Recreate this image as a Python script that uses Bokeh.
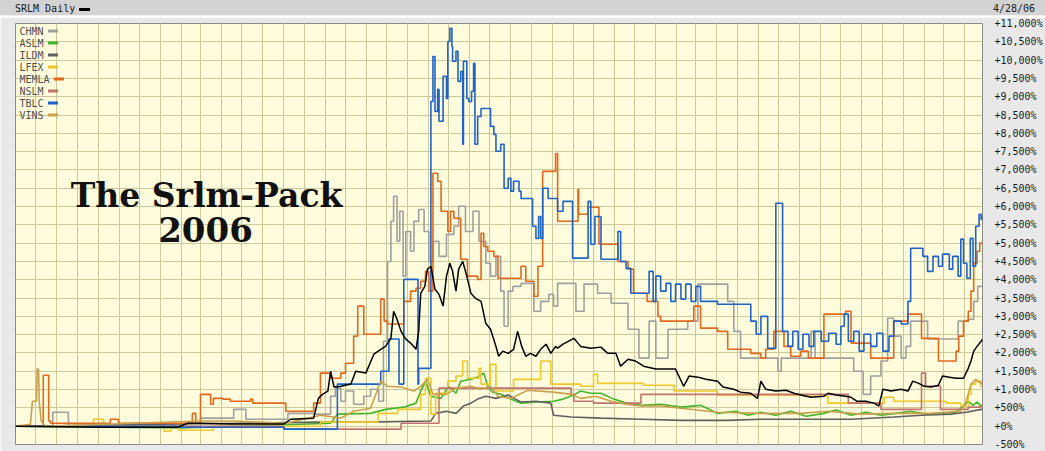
import pandas as pd
from bokeh.plotting import figure
from bokeh.models import Range1d, FixedTicker, MonthsTicker, Label, BoxAnnotation, Div, ColumnDataSource
from bokeh.layouts import column
from bokeh.embed import file_html
from bokeh.resources import INLINE

# ---------------- data (percent change since start) ----------------
srlm = [("2002-06-01",0),("2002-10-05",-30),("2003-01-26",-30),("2003-02-10",80),("2003-03-01",80),("2003-04-14",60),
        ("2003-07-02",60),("2003-07-12",190),("2003-08-15",220),("2003-08-22",760),("2003-08-28",870),("2003-09-05",960),
        ("2003-09-09",1500),("2003-09-14",1070),("2003-09-24",1090),("2003-10-09",1150),("2003-10-16",1500),("2003-10-31",1450),
        ("2003-11-12",1970),("2003-11-22",2100),("2003-11-29",2180),("2003-12-07",2400),("2003-12-11",3140),("2003-12-16",2920),
        ("2003-12-22",2590),("2003-12-29",2380),("2004-01-05",2270),("2004-01-13",2100),("2004-01-17",2590),("2004-01-20",3630),
        ("2004-01-26",3820),("2004-01-30",4290),("2004-02-04",4370),("2004-02-10",3740),("2004-02-16",3600),("2004-02-22",3280),
        ("2004-02-27",4100),("2004-03-03",4450),("2004-03-07",4230),("2004-03-12",3690),("2004-03-16",4290),("2004-03-22",4500),
        ("2004-03-28",4100),("2004-04-03",3630),("2004-04-10",3490),("2004-04-18",3410),("2004-04-25",2810),("2004-05-02",2650),
        ("2004-05-10",2180),("2004-05-14",1910),("2004-05-20",2050),("2004-05-28",1990),("2004-06-05",2100),("2004-06-11",2590),
        ("2004-06-17",2180),("2004-06-23",1910),("2004-06-30",1990),("2004-07-08",1910),("2004-07-15",2100),("2004-07-23",2240),
        ("2004-07-30",1990),("2004-08-06",2180),("2004-08-09",2130),("2004-08-17",2240),("2004-09-02",2400),("2004-09-12",2180),
        ("2004-09-27",2130),("2004-10-12",2160),("2004-10-22",1990),("2004-11-03",1990),("2004-11-10",1640),("2004-11-21",1830),
        ("2004-12-02",1780),("2004-12-14",1640),("2005-01-01",1560),("2005-01-19",1560),("2005-01-30",1560),("2005-02-11",1090),
        ("2005-02-19",1370),("2005-03-04",1340),("2005-03-16",1280),("2005-04-02",1230),("2005-04-10",1070),("2005-04-26",1010),
        ("2005-05-06",930),("2005-05-21",900),("2005-05-31",760),("2005-06-05",1230),("2005-06-12",1010),("2005-06-27",960),
        ("2005-07-12",980),("2005-07-24",900),("2005-08-03",850),("2005-08-18",790),("2005-09-06",820),("2005-09-12",900),
        ("2005-09-24",850),("2005-10-08",820),("2005-10-16",790),("2005-10-25",680),("2005-11-07",680),("2005-11-19",630),
        ("2005-11-26",550),("2005-12-02",1010),("2005-12-14",960),("2005-12-29",1010),("2006-01-08",960),("2006-01-15",1230),
        ("2006-01-24",1170),("2006-02-01",1090),("2006-02-11",1070),("2006-02-22",1120),("2006-02-28",1370),("2006-03-10",1340),
        ("2006-03-20",1310),("2006-03-31",1310),("2006-04-07",1580),("2006-04-11",1780),("2006-04-15",2050),("2006-04-20",2180),
        ("2006-04-26",2320),("2006-04-28",2380)]

chmn = [("2002-06-01",0),("2002-07-26",380),("2002-08-18",0),("2002-11-21",80),("2002-12-03",0),("2003-01-06",80),
        ("2003-01-20",0),("2003-03-01",220),("2003-04-19",460),("2003-05-07",190),("2003-07-08",350),("2003-08-15",330),
        ("2003-09-09",820),("2003-09-16",1040),("2003-09-24",680),("2003-10-01",960),("2003-10-13",600),("2003-10-28",820),
        ("2003-11-07",1010),("2003-11-19",680),("2003-11-26",2320),("2003-12-02",4500),("2003-12-07",5600),("2003-12-11",6280),
        ("2003-12-16",5050),("2003-12-20",5870),("2003-12-25",4100),("2003-12-29",5320),("2004-01-05",4780),("2004-01-10",5600),
        ("2004-01-17",5920),("2004-01-25",5320),("2004-02-01",4500),("2004-02-07",5050),("2004-02-16",4640),("2004-02-27",5240),
        ("2004-03-09",5460),("2004-03-16",6010),("2004-03-26",5320),("2004-04-06",5870),("2004-04-15",5050),("2004-04-25",4450),
        ("2004-05-02",4100),("2004-05-10",4640),("2004-05-17",3690),("2004-05-22",2730),("2004-05-28",3690),("2004-06-04",3820),
        ("2004-06-16",3900),("2004-07-05",3140),("2004-07-15",3410),("2004-07-27",3600),("2004-08-03",3280),("2004-08-09",3900),
        ("2004-09-05",3140),("2004-09-17",3880),("2004-10-07",3630),("2004-10-27",3360),("2004-11-21",2650),("2004-12-07",1860),
        ("2004-12-22",2870),("2005-01-01",1860),("2005-01-19",2650),("2005-02-17",2870),("2005-03-04",3880),("2005-04-17",3410),
        ("2005-04-26",2590),("2005-05-06",1860),("2005-06-30",1500),("2005-07-05",1860),("2005-08-18",2590),("2005-08-24",1860),
        ("2005-10-20",1500),("2005-11-03",870),("2005-11-14",1370),("2005-11-29",1780),("2005-12-09",2950),("2005-12-18",2460),
        ("2005-12-29",1860),("2006-01-05",2180),("2006-01-12",2870),("2006-02-06",2380),("2006-03-23",2870),("2006-04-07",2920),
        ("2006-04-15",3410),("2006-04-21",3820),("2006-04-28",3820)]

aslm = [("2002-06-01",0),("2003-01-30",-50),("2003-09-09",80),("2003-09-19",330),("2003-11-07",350),("2003-11-29",460),
        ("2003-12-26",520),("2004-01-13",630),("2004-01-20",960),("2004-01-27",1230),("2004-02-04",820),("2004-02-19",760),
        ("2004-03-01",1090),("2004-03-12",900),("2004-03-19",1230),("2004-04-03",1280),("2004-04-13",1340),("2004-04-22",1450),
        ("2004-04-28",1090),("2004-05-05",930),("2004-05-17",870),("2004-06-01",740),("2004-06-16",630),("2004-07-08",660),
        ("2004-08-03",680),("2004-08-17",740),("2004-09-02",850),("2004-09-12",960),("2004-09-27",900),("2004-10-12",900),
        ("2004-10-31",740),("2004-11-18",630),("2004-12-10",570),("2005-01-08",600),("2005-02-07",520),("2005-03-08",570),
        ("2005-04-02",350),("2005-04-29",410),("2005-05-17",300),("2005-06-05",380),("2005-06-27",300),("2005-07-19",410),
        ("2005-08-11",270),("2005-09-06",350),("2005-09-24",440),("2005-10-16",300),("2005-11-07",380),("2005-11-29",300),
        ("2005-12-21",350),("2006-01-12",410),("2006-02-03",330),("2006-02-25",350),("2006-03-20",380),("2006-03-30",550),
        ("2006-04-07",680),("2006-04-14",570),("2006-04-20",660),("2006-04-26",550),("2006-04-28",550)]

ildm = [("2002-06-01",0),("2003-08-25",110),("2003-10-28",110),("2004-02-04",140),("2004-02-11",350),("2004-02-27",410),
        ("2004-03-12",350),("2004-03-23",550),("2004-04-03",630),("2004-04-13",740),("2004-04-25",820),("2004-05-10",760),
        ("2004-05-28",850),("2004-06-08",740),("2004-06-16",660),("2004-07-08",680),("2004-07-30",630),("2004-08-03",300),
        ("2004-08-29",250),("2004-10-12",220),("2004-12-10",190),("2005-02-07",160),("2005-04-17",160),("2005-06-05",190),
        ("2005-08-03",190),("2005-10-16",190),("2005-12-18",250),("2006-01-28",300),("2006-03-12",330),("2006-04-04",380),
        ("2006-04-26",460),("2006-04-28",460)]

lfex = [("2002-06-01",0),("2002-09-24",190),("2002-10-09",0),("2003-01-06",-140),("2003-01-16",0),("2003-01-28",-110),
        ("2003-03-20",0),("2003-08-25",110),("2003-11-18",350),("2003-12-17",460),("2004-01-20",870),("2004-01-27",1310),
        ("2004-02-04",330),("2004-02-11",900),("2004-02-29",1230),("2004-03-12",1370),("2004-03-22",1780),("2004-03-29",1310),
        ("2004-04-15",1580),("2004-04-18",1150),("2004-05-02",1690),("2004-05-10",960),("2004-06-05",1280),("2004-07-15",1780),
        ("2004-07-30",1150),("2004-09-12",1090),("2004-10-01",1420),("2004-10-07",1170),("2004-12-14",1120),("2005-01-28",960),
        ("2005-04-02",850),("2005-08-07",820),("2005-09-12",630),("2005-12-04",790),("2005-12-18",680),("2006-03-05",630),
        ("2006-03-27",550),("2006-04-07",870),("2006-04-11",1150),("2006-04-18",1230),("2006-04-26",1090),("2006-04-28",1090)]

memla = [("2002-06-01",0),("2002-07-12",1390),("2002-07-20",140),("2002-07-23",80),("2002-10-19",190),("2002-10-31",80),
         ("2003-02-17",350),("2003-02-22",80),("2003-03-01",870),("2003-03-16",600),("2003-03-20",760),("2003-04-03",740),
         ("2003-04-14",680),("2003-05-14",740),("2003-05-17",630),("2003-07-05",410),("2003-08-15",630),("2003-08-25",1450),
         ("2003-09-09",1310),("2003-09-24",1450),("2003-10-01",1720),("2003-10-13",2460),("2003-10-19",3280),("2003-10-28",2510),
         ("2003-11-22",3470),("2003-11-27",2870),("2003-12-02",2790),("2003-12-26",3410),("2004-01-05",3690),("2004-01-13",3770),
         ("2004-01-20",3960),("2004-01-27",4230),("2004-02-01",3690),("2004-02-07",6910),("2004-02-14",6690),("2004-02-19",5870),
         ("2004-02-29",5320),("2004-03-04",5870),("2004-03-09",5680),("2004-03-19",4560),("2004-03-29",4100),("2004-04-13",4010),
         ("2004-04-18",5270),("2004-04-22",4910),("2004-04-28",4780),("2004-05-07",4640),("2004-05-13",4040),("2004-06-16",4370),
         ("2004-06-23",3960),("2004-07-05",3550),("2004-07-11",4370),("2004-07-18",6960),("2004-08-06",7450),("2004-08-09",5600),
         ("2004-09-08",6470),("2004-09-09",5790),("2004-09-23",5980),("2004-10-09",4970),("2004-11-06",4500),("2004-11-21",4290),
         ("2004-11-29",3630),("2004-12-19",3410),("2005-01-04",3000),("2005-01-08",2870),("2005-02-26",3280),("2005-03-08",2680),
         ("2005-04-02",2590),("2005-04-17",2100),("2005-05-21",1990),("2005-06-05",1860),("2005-06-12",2100),("2005-06-24",2590),
         ("2005-07-09",2180),("2005-07-19",1910),("2005-08-03",2050),("2005-08-14",1860),("2005-09-06",3060),("2005-10-08",3140),
         ("2005-10-16",2270),("2005-11-14",1860),("2005-12-18",2870),("2006-01-08",3060),("2006-01-28",2400),("2006-02-22",1780),
         ("2006-03-20",2050),("2006-03-24",2460),("2006-03-31",2870),("2006-04-07",3140),("2006-04-11",3690),("2006-04-15",4450),
         ("2006-04-20",4780),("2006-04-24",5000),("2006-04-28",5000)]

nslm = [("2002-06-01",0),("2003-07-02",-80),("2003-12-22",80),("2004-02-16",1040),("2004-08-29",870),("2004-09-02",680),
        ("2004-10-01",630),("2004-12-10",870),("2005-10-12",630),("2005-11-29",460),("2006-01-28",1450),("2006-02-03",1090),
        ("2006-02-25",460),("2006-04-07",520),("2006-04-26",550),("2006-04-28",550)]

tblc = [("2002-06-01",0),("2003-01-26",-30),("2003-07-02",-80),("2003-09-19",1150),("2003-11-22",1500),("2003-12-04",2380),
        ("2003-12-19",1150),("2003-12-26",4010),("2004-01-16",1150),("2004-01-17",1580),("2004-02-04",8870),("2004-02-07",10100),
        ("2004-02-10",8600),("2004-02-14",9200),("2004-02-16",8330),("2004-02-22",9560),("2004-02-27",8950),("2004-02-29",10510),
        ("2004-03-03",10870),("2004-03-06",10370),("2004-03-07",9970),("2004-03-12",10240),("2004-03-15",9420),("2004-03-19",9690),
        ("2004-03-22",7700),("2004-03-23",9970),("2004-03-28",8950),("2004-03-31",8870),("2004-04-04",9150),("2004-04-07",9910),
        ("2004-04-09",7700),("2004-04-13",8460),("2004-04-18",8680),("2004-05-02",8190),("2004-05-07",7970),("2004-05-10",7510),
        ("2004-05-17",7700),("2004-05-22",6500),("2004-05-28",6770),("2004-06-01",6420),("2004-06-05",6690),("2004-06-13",6420),
        ("2004-06-16",6220),("2004-07-03",5460),("2004-07-08",5130),("2004-07-12",5730),("2004-07-15",5130),("2004-07-18",6500),
        ("2004-07-26",6220),("2004-08-09",5870),("2004-08-17",6140),("2004-08-31",4590),("2004-09-23",6140),("2004-09-27",4970),
        ("2004-10-03",5730),("2004-10-12",4560),("2004-11-06",5320),("2004-11-10",4500),("2004-11-18",4310),("2004-11-25",3630),
        ("2004-12-22",4230),("2004-12-28",3410),("2005-01-01",4100),("2005-01-08",3690),("2005-01-16",3900),("2005-01-23",3410),
        ("2005-01-30",3880),("2005-02-07",3470),("2005-02-14",3880),("2005-02-22",3410),("2005-03-01",3820),("2005-03-08",3410),
        ("2005-04-02",3330),("2005-05-21",2870),("2005-05-29",2510),("2005-06-05",3000),("2005-06-15",2130),("2005-06-27",6090),
        ("2005-07-07",2590),("2005-07-15",2180),("2005-07-22",2590),("2005-07-30",2100),("2005-08-06",2510),("2005-08-15",2180),
        ("2005-08-22",2590),("2005-09-02",2320),("2005-09-13",2540),("2005-09-24",2240),("2005-10-01",2730),("2005-10-06",3060),
        ("2005-10-12",2320),("2005-10-20",2590),("2005-10-28",2050),("2005-11-04",2510),("2005-11-14",2180),("2005-11-23",2540),
        ("2005-12-02",2050),("2005-12-11",2460),("2005-12-18",2870),("2005-12-29",2790),("2006-01-08",3410),("2006-01-12",4860),
        ("2006-01-30",4640),("2006-02-06",4230),("2006-02-14",4640),("2006-02-22",4370),("2006-02-28",4700),("2006-03-10",4290),
        ("2006-03-15",4640),("2006-03-23",4100),("2006-03-27",5110),("2006-03-31",4450),("2006-04-05",4040),("2006-04-10",5130),
        ("2006-04-14",4370),("2006-04-18",5460),("2006-04-23",5790),("2006-04-26",5650),("2006-04-28",5730)]

vins = [("2002-06-01",0),("2002-06-23",50),("2002-06-26",680),("2002-07-02",680),("2002-07-03",1560),("2002-07-05",1560),
        ("2002-07-06",680),("2002-07-09",140),("2002-07-15",0),("2003-03-01",140),("2003-04-19",140),("2003-07-05",80),
        ("2003-08-25",300),("2003-09-24",220),("2003-10-13",410),("2003-11-07",490),("2003-11-22",1230),("2003-12-02",1090),
        ("2003-12-22",1070),("2004-01-10",960),("2004-01-20",1090),("2004-01-30",1280),("2004-02-07",870),("2004-02-27",870),
        ("2004-03-12",1040),("2004-04-03",1090),("2004-04-18",1010),("2004-05-02",1090),("2004-05-13",820),("2004-06-01",760),
        ("2004-06-26",980),("2004-08-03",930),("2004-08-29",870),("2004-09-12",760),("2004-10-04",820),("2004-10-27",680),
        ("2004-11-18",600),("2004-12-10",550),("2005-01-08",550),("2005-04-02",380),("2005-06-05",350),("2005-08-03",350),
        ("2005-09-12",410),("2005-10-31",330),("2005-12-18",350),("2006-02-11",350),("2006-03-27",410),("2006-04-04",680),
        ("2006-04-11",1150),("2006-04-18",1280),("2006-04-26",1170),("2006-04-28",1170)]

legend_names = ["CHMN", "ASLM", "ILDM", "LFEX", "MEMLA", "NSLM", "TBLC", "VINS"]
legend_colors = ["#a0a0a0", "#44b42a", "#606060", "#efc82a", "#e2691c", "#c27470", "#1f63c6", "#c9a04c"]
series = [chmn, aslm, ildm, lfex, memla, nslm, tblc, vins]
step_series = {"CHMN", "LFEX", "MEMLA", "NSLM", "TBLC"}

tick_values = [-500, 0, 500, 1000, 1500, 2000, 2500, 3000, 3500, 4000, 4500, 5000, 5500,
               6000, 6500, 7000, 7500, 8000, 8500, 9000, 9500, 10000, 10500, 11000]
tick_labels = ["-500%", "+0%", "+500%", "+1,000%", "+1,500%", "+2,000%", "+2,500%", "+3,000%",
               "+3,500%", "+4,000%", "+4,500%", "+5,000%", "+5,500%", "+6,000%", "+6,500%",
               "+7,000%", "+7,500%", "+8,000%", "+8,500%", "+9,000%", "+9,500%", "+10,000%",
               "+10,500%", "+11,000%"]

header_title = "SRLM Daily"
header_date = "4/28/06"
title_lines = ["The Srlm-Pack", "2006"]

MONO = "DejaVu Sans Mono"

def src(pairs):
    return ColumnDataSource(dict(x=pd.to_datetime([d for d, _ in pairs]), y=[v for _, v in pairs]))

# ---------------- header bar ----------------
header = Div(
    text=(f'<div style="position:relative;width:1045px;height:16px;background:#d3d3d3;'
          f'border-bottom:1px solid #f2f2f2;font-family:\'{MONO}\';font-size:10px;color:#1a1a1a;">'
          f'<span style="position:absolute;left:15px;top:2px;">{header_title}</span>'
          f'<span style="position:absolute;left:79px;top:8px;width:11px;height:3px;background:#000;"></span>'
          f'<span style="position:absolute;left:993px;top:2px;">{header_date}</span></div>'),
    width=1045, height=17, margin=0)

# ---------------- main figure ----------------
p = figure(width=1045, height=434, output_backend="svg", toolbar_location=None,
           x_axis_type="datetime", x_axis_location=None, y_axis_location="right",
           x_range=Range1d(pd.Timestamp("2002-06-01"), pd.Timestamp("2006-04-28")),
           y_range=Range1d(-500, 11000),
           min_border_left=15, min_border_right=63, min_border_top=6, min_border_bottom=7,
           background_fill_color="#fefcdc", border_fill_color="#e8e8e8",
           outline_line_color="#8a8a8a", margin=0)

p.xgrid.ticker = MonthsTicker(months=list(range(12)))
p.xgrid.grid_line_color = "#cdc89c"
p.ygrid.ticker = FixedTicker(ticks=tick_values)
p.ygrid.grid_line_color = "#cdc89c"

ax = p.yaxis[0]
ax.ticker = FixedTicker(ticks=tick_values)
ax.major_label_overrides = {v: l for v, l in zip(tick_values, tick_labels)}
ax.axis_line_color = None
ax.major_tick_line_color = None
ax.minor_tick_line_color = None
ax.major_tick_out = 0
ax.major_tick_in = 0
ax.major_label_standoff = 12
ax.major_label_text_font = MONO
ax.major_label_text_font_size = "10px"
ax.major_label_text_color = "#1a1a1a"

for name, color, data in zip(legend_names, legend_colors, series):
    s = src(data)
    if name in step_series:
        p.step("x", "y", source=s, mode="after", line_color=color, line_width=1.6)
    else:
        p.line("x", "y", source=s, line_color=color, line_width=1.6)

p.line("x", "y", source=src(srlm), line_color="#000000", line_width=1.5)

# legend (label followed by a coloured dash)
for i, (name, color) in enumerate(zip(legend_names, legend_colors)):
    yy = 413.5 - 12 * i
    p.add_layout(Label(x=4, y=yy, x_units="screen", y_units="screen", text=name,
                       text_baseline="middle", text_font=MONO, text_font_size="10px",
                       text_color="#505050"))
    left = 4 + 6 * len(name) + 4.5
    p.add_layout(BoxAnnotation(left=left, right=left + 10, bottom=yy - 1.5, top=yy + 1.5,
                               left_units="screen", right_units="screen",
                               bottom_units="screen", top_units="screen",
                               fill_color=color, fill_alpha=1.0, line_color=None))

# title text
p.add_layout(Label(x=191, y=249, x_units="screen", y_units="screen", text=title_lines[0],
                   text_align="center", text_baseline="middle", text_font="DejaVu Serif",
                   text_font_style="bold", text_font_size="33px", text_color="#111111"))
p.add_layout(Label(x=190, y=215, x_units="screen", y_units="screen", text=title_lines[1],
                   text_align="center", text_baseline="middle", text_font="DejaVu Serif",
                   text_font_style="bold", text_font_size="34px", text_color="#111111"))

layout = column(header, p, spacing=0, margin=0)

open("out.html", "w").write(file_html(layout, INLINE))
